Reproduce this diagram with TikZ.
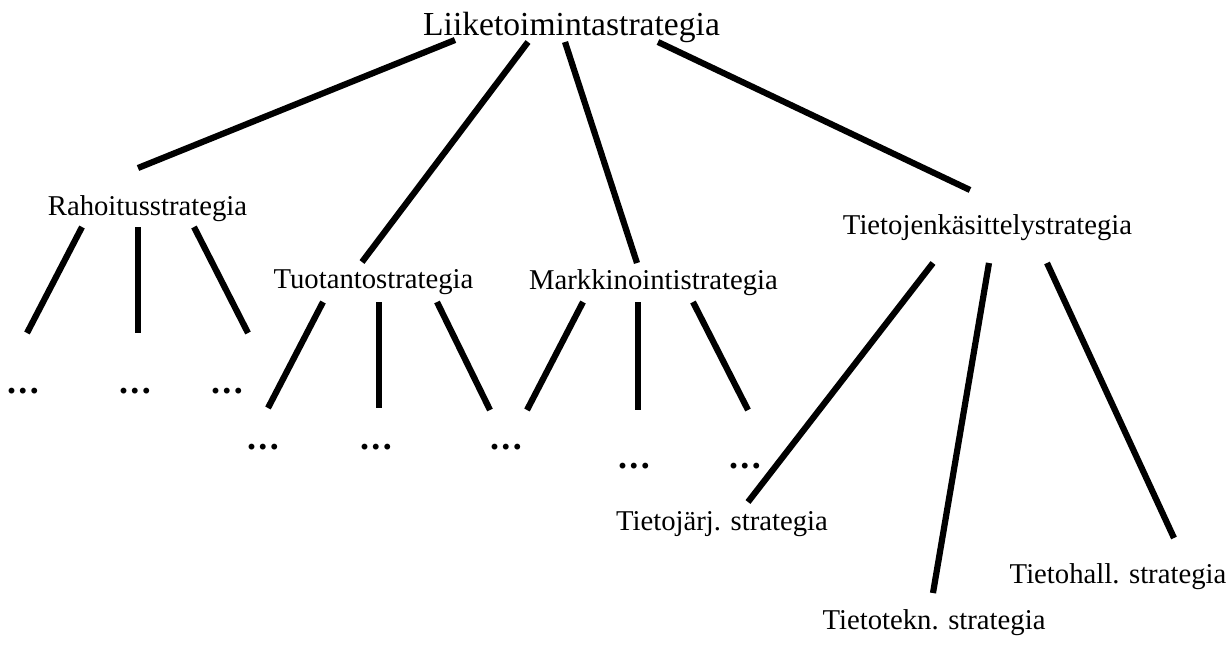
\documentclass[tikz,border=0pt]{standalone}
\usepackage{fontspec}
\setmainfont{Liberation Serif}
\begin{document}
\begin{tikzpicture}[x=1pt,y=-1pt,
  branch/.style={line width=6.2pt},
  lbl/.style={inner sep=0pt, anchor=base, font=\fontsize{28.7}{34}\selectfont},
  rootlbl/.style={lbl, font=\fontsize{33.6}{40}\selectfont},
  ellip/.style={inner sep=0pt, anchor=base, font=\fontsize{36}{40}\selectfont\bfseries}]
\useasboundingbox (0,0) rectangle (1232,648);

% strategy labels
\node[rootlbl] (liike) at (571.5,35) {Liiketoimintastrategia};
\node[lbl] (rahoitus) at (147.5,215) {Rahoitusstrategia};
\node[lbl] (tuotanto) at (373.5,288) {Tuotantostrategia};
\node[lbl] (markk) at (653.5,289) {Markkinointistrategia};
\node[lbl] (tietojenk) at (987.5,234) {Tietojenkäsittelystrategia};
\node[lbl] (tietojarj) at (722,530) {Tietojärj. strategia};
\node[lbl] (tietohall) at (1118,583) {Tietohall. strategia};
\node[lbl] (tietotekn) at (934,629) {Tietotekn. strategia};

% unnamed sub-strategies
\node[ellip] (r1) at (23,393) {.\kern2.5pt.\kern2.5pt.};
\node[ellip] (r2) at (135,393) {.\kern2.5pt.\kern2.5pt.};
\node[ellip] (r3) at (227,393) {.\kern2.5pt.\kern2.5pt.};
\node[ellip] (t1) at (263,449) {.\kern2.5pt.\kern2.5pt.};
\node[ellip] (t2) at (376,449) {.\kern2.5pt.\kern2.5pt.};
\node[ellip] (t3) at (506,449) {.\kern2.5pt.\kern2.5pt.};
\node[ellip] (m2) at (634,468) {.\kern2.5pt.\kern2.5pt.};
\node[ellip] (m3) at (745,468) {.\kern2.5pt.\kern2.5pt.};

% connector end points
\coordinate (l-a) at (455,40);   \coordinate (ra-top) at (138,168);
\coordinate (l-b) at (528,42);   \coordinate (tu-top) at (362,262);
\coordinate (l-c) at (565,42);   \coordinate (ma-top) at (637,263);
\coordinate (l-d) at (658,42);   \coordinate (tk-top) at (970,190);

\coordinate (ra-a) at (82,227);  \coordinate (r1-top) at (27,333);
\coordinate (ra-b) at (138,227); \coordinate (r2-top) at (138,333);
\coordinate (ra-c) at (194,227); \coordinate (r3-top) at (248,333);

\coordinate (tu-a) at (323,302); \coordinate (t1-top) at (268,408);
\coordinate (tu-b) at (379,302); \coordinate (t2-top) at (379,408);
\coordinate (tu-c) at (437,302); \coordinate (t3-top) at (490,410);

\coordinate (ma-a) at (583,302); \coordinate (m1-top) at (527,410);
\coordinate (ma-b) at (638,302); \coordinate (m2-top) at (638,410);
\coordinate (ma-c) at (693,302); \coordinate (m3-top) at (748,410);

\coordinate (tk-a) at (933,263);  \coordinate (tj-top) at (748,502);
\coordinate (tk-b) at (989,263);  \coordinate (tt-top) at (933,593);
\coordinate (tk-c) at (1047,263); \coordinate (th-top) at (1174,538);

% connectors
\draw[branch] (l-a) -- (ra-top);
\draw[branch] (l-b) -- (tu-top);
\draw[branch] (l-c) -- (ma-top);
\draw[branch] (l-d) -- (tk-top);

\draw[branch] (ra-a) -- (r1-top);
\draw[branch] (ra-b) -- (r2-top);
\draw[branch] (ra-c) -- (r3-top);

\draw[branch] (tu-a) -- (t1-top);
\draw[branch] (tu-b) -- (t2-top);
\draw[branch] (tu-c) -- (t3-top);

\draw[branch] (ma-a) -- (m1-top);
\draw[branch] (ma-b) -- (m2-top);
\draw[branch] (ma-c) -- (m3-top);

\draw[branch] (tk-a) -- (tj-top);
\draw[branch] (tk-b) -- (tt-top);
\draw[branch] (tk-c) -- (th-top);
\end{tikzpicture}
\end{document}
